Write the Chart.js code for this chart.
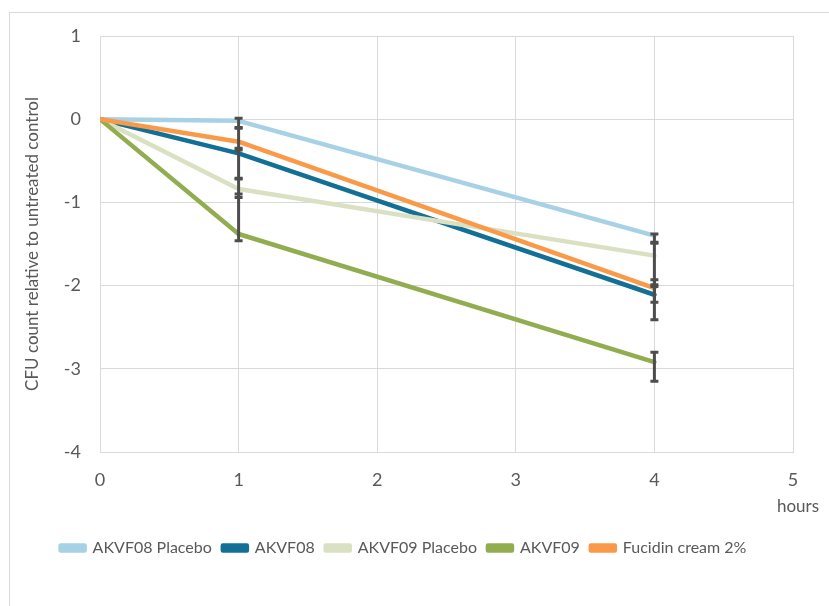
<!DOCTYPE html>
<html>
<head>
<meta charset="utf-8">
<script src="https://cdn.jsdelivr.net/npm/chart.js@4.4.1/dist/chart.umd.min.js"></script>
<style>
  html, body { margin: 0; padding: 0; background: #ffffff; }
  #wrap { position: relative; width: 829px; height: 606px; overflow: hidden; }
  canvas { position: absolute; left: 0; top: 0; }
</style>
</head>
<body>
<div id="wrap"><canvas id="c" width="829" height="606"></canvas></div>
<script>
// ---- data ----
const hours = [0, 1, 4];
const seriesNames = ["AKVF08 Placebo", "AKVF08", "AKVF09 Placebo", "AKVF09", "Fucidin cream 2%"];
const akvf08Placebo = [0, -0.02, -1.40];
const akvf08 = [0, -0.41, -2.11];
const akvf09Placebo = [0, -0.84, -1.64];
const akvf09 = [0, -1.38, -2.92];
const fucidin = [0, -0.27, -2.03];
// error bar extents (plus / minus)
const akvf08PlaceboErrPlus = [0, 0.03, 0.02];
const akvf08PlaceboErrMinus = [0, 0.08, 0.08];
const akvf08ErrPlus = [0, 0.06, 0.10];
const akvf08ErrMinus = [0, 0.30, 0.30];
const akvf09PlaceboErrPlus = [0, 0.12, 0.15];
const akvf09PlaceboErrMinus = [0, 0.10, 0.35];
const akvf09ErrPlus = [0, 0.48, 0.12];
const akvf09ErrMinus = [0, 0.08, 0.23];
const fucidinErrPlus = [0, 0.16, 0.10];
const fucidinErrMinus = [0, 0.10, 0.17];
const xTicks = [0, 1, 2, 3, 4, 5];
const yTicks = [1, 0, -1, -2, -3, -4];
const xTitle = "hours";
const yTitle = "CFU count relative to untreated control";

const colors = ["#a7d1e4", "#126f96", "#d9e1c2", "#92ad4f", "#fa9a48"];
const values = [akvf08Placebo, akvf08, akvf09Placebo, akvf09, fucidin];
const errPlus = [akvf08PlaceboErrPlus, akvf08ErrPlus, akvf09PlaceboErrPlus, akvf09ErrPlus, fucidinErrPlus];
const errMinus = [akvf08PlaceboErrMinus, akvf08ErrMinus, akvf09PlaceboErrMinus, akvf09ErrMinus, fucidinErrMinus];

const FONT = "Lato, 'Open Sans', sans-serif";
const TXT = "#595959";

const datasets = seriesNames.map((name, i) => ({
  label: name,
  data: hours.map((h, j) => ({ x: h, y: values[i][j] })),
  borderColor: colors[i],
  backgroundColor: colors[i],
  borderWidth: 4.5,
  borderCapStyle: 'round',
  borderJoinStyle: 'round',
  pointRadius: 0,
  tension: 0,
  order: seriesNames.length - i,
  errPlus: errPlus[i],
  errMinus: errMinus[i]
}));

const frameAndExtras = {
  id: 'frameAndExtras',
  beforeDraw(chart) {
    const ctx = chart.ctx;
    ctx.save();
    ctx.fillStyle = '#ffffff';
    ctx.fillRect(0, 0, chart.width, chart.height);
    ctx.strokeStyle = '#d9d9d9';
    ctx.lineWidth = 1;
    ctx.strokeRect(9.5, 12.5, 900, 700);
    ctx.restore();
  },
  afterDatasetsDraw(chart) {
    const ctx = chart.ctx;
    const xs = chart.scales.x, ys = chart.scales.y;
    ctx.save();
    ctx.strokeStyle = '#4d4d4d';
    ctx.lineWidth = 3;
    ctx.lineCap = 'butt';
    chart.data.datasets.forEach(ds => {
      ds.data.forEach((p, j) => {
        const up = ds.errPlus[j], dn = ds.errMinus[j];
        if (!up && !dn) return;
        const px = xs.getPixelForValue(p.x);
        const y1 = ys.getPixelForValue(p.y + up);
        const y2 = ys.getPixelForValue(p.y - dn);
        ctx.beginPath();
        ctx.moveTo(px, y1); ctx.lineTo(px, y2);
        ctx.moveTo(px - 4, y1); ctx.lineTo(px + 4, y1);
        ctx.moveTo(px - 4, y2); ctx.lineTo(px + 4, y2);
        ctx.stroke();
      });
    });
    ctx.restore();
  },
  afterDraw(chart) {
    const ctx = chart.ctx;
    ctx.save();
    ctx.fillStyle = TXT;
    ctx.font = "17px " + FONT;
    ctx.textAlign = 'right';
    ctx.textBaseline = 'middle';
    ctx.fillText(xTitle, 819, 507);
    ctx.restore();
  }
};

new Chart(document.getElementById('c'), {
  type: 'line',
  data: { datasets },
  plugins: [frameAndExtras],
  options: {
    responsive: false,
    animation: false,
    devicePixelRatio: 1,
    layout: { padding: { left: 14, right: 36, top: 36, bottom: 40 } },
    plugins: {
      tooltip: { enabled: false },
      legend: {
        position: 'bottom',
        labels: {
          boxWidth: 24,
          boxHeight: 5,
          padding: 11,
          color: TXT,
          font: { family: FONT, size: 16 },
          sort: (a, b) => a.datasetIndex - b.datasetIndex
        }
      }
    },
    scales: {
      x: {
        type: 'linear',
        min: 0, max: 5,
        afterBuildTicks(s) { s.ticks = xTicks.map(v => ({ value: v })); },
        afterFit(s) { s.height = 77; },
        grid: { color: '#d9d9d9', lineWidth: 1, drawTicks: false },
        border: { color: '#d9d9d9', width: 1 },
        ticks: { color: TXT, font: { family: FONT, size: 18 }, padding: 17, maxRotation: 0 }
      },
      y: {
        type: 'linear',
        min: -4, max: 1,
        afterBuildTicks(s) { s.ticks = yTicks.map(v => ({ value: v })); },
        afterFit(s) { s.width = 86; },
        grid: { color: '#d9d9d9', lineWidth: 1, drawTicks: false },
        border: { color: '#d9d9d9', width: 1 },
        ticks: { color: TXT, font: { family: FONT, size: 18 }, padding: 19 },
        title: {
          display: true,
          text: yTitle,
          color: TXT,
          font: { family: FONT, size: 17 },
          padding: { top: 8, bottom: 0 }
        }
      }
    }
  }
});
</script>
</body>
</html>
